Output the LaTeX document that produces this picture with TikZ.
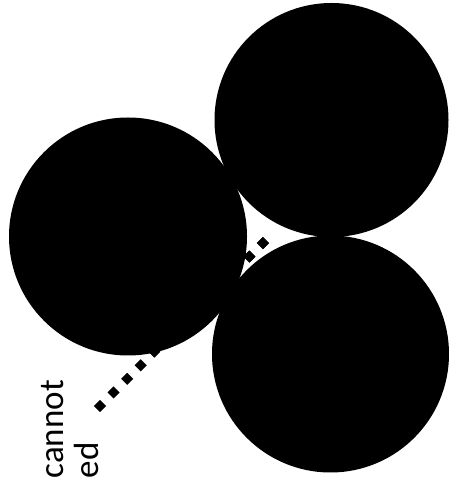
\documentclass[tikz,border=0pt]{standalone}
\usepackage{fontspec}
\setmainfont{Carlito}
\begin{document}
\begin{tikzpicture}[x=1pt,y=1pt,
  ball/.style={fill=black,draw=none},
  dotmark/.style={fill=black,draw=none,rectangle,rotate=45,minimum size=8.5pt,inner sep=0pt},
  label/.style={rotate=90,anchor=base west,inner sep=0pt,font=\fontsize{35}{35}\selectfont}]
\useasboundingbox (0,0) rectangle (449,479);
% dotted line (diamonds)
\foreach \i in {0,...,12}{
  \node[dotmark] (d\i) at ({100+13.58*\i},{73+13.58*\i}) {};
}
% circles
\fill[ball] (128,242.5) circle (119);
\fill[ball] (331.5,359) circle (117);
\fill[ball] (330.5,125) circle (118.5);
% visible diamonds in the gap
\node[dotmark] (g1) at ({100+13.58*11},{73+13.58*11}) {};
\node[dotmark] (g2) at ({100+13.58*12},{73+13.58*12}) {};
% text
\node[label] (t1) at (63.5,0.5) {cannot};
\node[label] (t2) at (98.5,0.5) {ed};
\end{tikzpicture}
\end{document}
